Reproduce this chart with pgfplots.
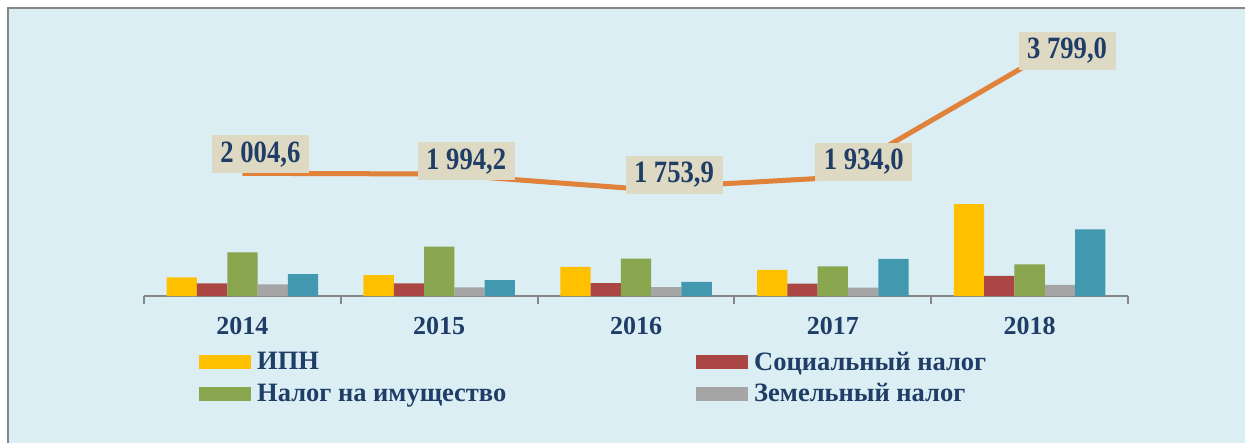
\documentclass[border=0pt]{standalone}
\usepackage{fontspec}
\setmainfont{Liberation Serif}
\newfontfamily\condfont[FakeStretch=0.86]{Liberation Serif}
\usepackage{pgfplots}
\pgfplotsset{compat=1.18}
\usepackage{pgfplotstable}
\definecolor{bgc}{HTML}{DBEEF4}
\definecolor{framec}{HTML}{878787}
\definecolor{axisc}{HTML}{878787}
\definecolor{cipn}{HTML}{FFC000}
\definecolor{csoc}{HTML}{AA4744}
\definecolor{cimu}{HTML}{89A54E}
\definecolor{czem}{HTML}{A5A5A5}
\definecolor{coth}{HTML}{4298AF}
\definecolor{cline}{HTML}{E0823A}
\definecolor{lblfill}{HTML}{DDD9C3}
\definecolor{navy}{HTML}{1F3D66}

\pgfplotstableread{
x ipn soc imu zem oth total dx dy
0 305 208 714 191 359 2004.6 18 19
1 343 208 806 142 261 1994.2 27 12.5
2 474 212 610 147 229 1753.9 38 14
3 425 201 485 136 605 1934.0 31 16
4 1503 327 518 180 1090 3799.0 37.5 13
}\data

\begin{document}
\begin{tikzpicture}
\path[use as bounding box] (0,0) rectangle (1245pt,-443pt);
\fill[white] (0,0) rectangle (1245pt,-443pt);
\fill[bgc] (8pt,-8pt) rectangle (1245pt,-443pt);
\draw[framec, line width=2pt] (8pt,-443pt) -- (8pt,-8pt) -- (1245pt,-8pt);
\begin{axis}[
  at={(144pt,-296pt)}, anchor=south west,
  scale only axis, width=984pt, height=257pt,
  xmin=-0.5, xmax=4.5, ymin=0, ymax=4200,
  axis x line=bottom, axis y line=none,
  axis line style={-, draw=axisc, line width=2pt},
  xtick={0,1,2,3,4},
  xticklabels={2014,2015,2016,2017,2018},
  major tick length=0pt,
  minor xtick={-0.5,0.5,1.5,2.5,3.5,4.5},
  minor tick length=8pt,
  tick align=outside,
  minor tick style={draw=axisc, line width=2pt},
  xticklabel style={font=\bfseries\fontsize{26}{26}\selectfont, text=navy, yshift=-18pt},
  clip=false,
  legend columns=2,
  legend cell align=left,
  legend style={at={(0.0559,-0.209)}, anchor=north west, draw=none, fill=none,
    inner sep=0pt, row sep=8pt,
    font=\bfseries\fontsize{26.5}{26.5}\selectfont, text=navy,
    nodes={inner xsep=6pt, inner ysep=2pt}},
  legend image code/.code={\fill[#1] (0pt,-7pt) rectangle (52pt,7pt);},
  bars/.style={ybar=0pt, bar width=30.3pt, draw=none, bar shift=#1},
]
\addplot[bars=-60.6pt, fill=cipn] table[x=x, y=ipn] {\data};
\addlegendentry{\makebox[433pt][l]{ИПН}}
\addplot[bars=-30.3pt, fill=csoc] table[x=x, y=soc] {\data};
\addlegendentry{Социальный налог}
\addplot[bars=0pt, fill=cimu] table[x=x, y=imu] {\data};
\addlegendentry{\makebox[433pt][l]{Налог на имущество}}
\addplot[bars=30.3pt, fill=czem] table[x=x, y=zem] {\data};
\addlegendentry{Земельный налог}
\addplot[bars=60.6pt, fill=coth] table[x=x, y=oth] {\data};
\addplot[sharp plot, draw=cline, line width=5pt, no marks, forget plot,
  visualization depends on={\thisrow{dx} \as \dx},
  visualization depends on={\thisrow{dy} \as \dy},
  nodes near coords,
  nodes near coords style={anchor=center, xshift=\dx pt, yshift=\dy pt,
    fill=lblfill, text=navy, minimum width=97pt, minimum height=38pt,
    inner sep=0pt,
    font=\condfont\bfseries\fontsize{31}{31}\selectfont,
    /pgf/number format/.cd, fixed, fixed zerofill, precision=1, use comma,
    1000 sep={\ }, assume math mode=true},
] table[x=x, y=total] {\data};
\end{axis}
\end{tikzpicture}
\end{document}
